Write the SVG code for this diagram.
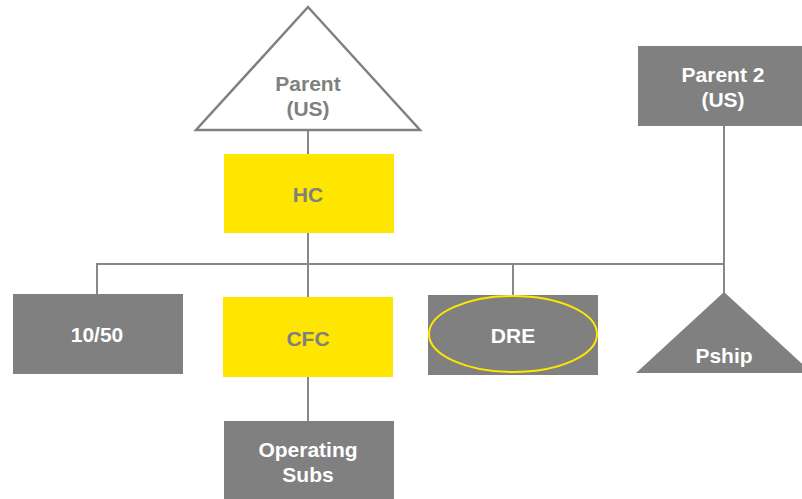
<svg xmlns="http://www.w3.org/2000/svg" width="802" height="499" viewBox="0 0 802 499">
<style>
.gray{fill:#808080}
.yel{fill:#FFE600}
.t{font-family:"Liberation Sans",Arial,sans-serif;font-weight:bold;font-size:21px;text-anchor:middle}
.tw{fill:#ffffff}
.tg{fill:#808080}
.c{stroke:#888888;stroke-width:2;fill:none}
</style>
<rect width="802" height="499" fill="#ffffff"/>
<g id="connectors">
<line class="c" x1="308" y1="130" x2="308" y2="154"/>
<line class="c" x1="308" y1="233" x2="308" y2="297"/>
<line class="c" x1="97" y1="264" x2="724" y2="264"/>
<line class="c" x1="97" y1="263" x2="97" y2="294"/>
<line class="c" x1="513" y1="263" x2="513" y2="295"/>
<line class="c" x1="724" y1="126" x2="724" y2="293"/>
<line class="c" x1="308" y1="377" x2="308" y2="421"/>
</g>
<g id="parent">
<polygon points="308,7 196,130 420,130" fill="#ffffff" stroke="#808080" stroke-width="2.5" stroke-linejoin="miter"/>
<text class="t tg" x="308" y="91">Parent</text>
<text class="t tg" x="308" y="116">(US)</text>
</g>
<g id="hc">
<rect class="yel" x="224" y="154" width="170" height="79"/>
<text class="t tg" x="308" y="202">HC</text>
</g>
<g id="parent2">
<rect class="gray" x="638" y="46" width="170" height="80"/>
<text class="t tw" x="723" y="82">Parent 2</text>
<text class="t tw" x="723" y="107">(US)</text>
</g>
<g id="n1050">
<rect class="gray" x="13" y="294" width="170" height="80"/>
<text class="t tw" x="97" y="342">10/50</text>
</g>
<g id="cfc">
<rect class="yel" x="223" y="297" width="170" height="80"/>
<text class="t tg" x="308" y="346">CFC</text>
</g>
<g id="dre">
<rect class="gray" x="428" y="295" width="170" height="80"/>
<ellipse cx="513" cy="334" rx="84" ry="38" fill="none" stroke="#FFE600" stroke-width="2"/>
<text class="t tw" x="513" y="343">DRE</text>
</g>
<g id="pship">
<polygon class="gray" points="724,292 636,373 812,373"/>
<text class="t tw" x="724" y="363">Pship</text>
</g>
<g id="opsubs">
<rect class="gray" x="224" y="421" width="170" height="78"/>
<text class="t tw" x="308" y="457">Operating</text>
<text class="t tw" x="308" y="482">Subs</text>
</g>
</svg>
